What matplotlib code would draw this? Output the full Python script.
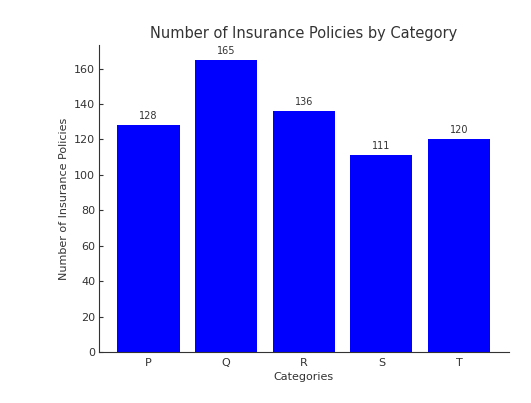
import matplotlib
matplotlib.use("Agg")
import matplotlib.pyplot as plt

categories = ["P", "Q", "R", "S", "T"]
values = [128, 165, 136, 111, 120]

fig = plt.figure(figsize=(5.31, 4.03), dpi=100)
ax = fig.add_axes([0.186, 0.1266, 0.772, 0.7614])
bars = ax.bar(categories, values, color="blue", width=0.8)
for b, v in zip(bars, values):
    ax.annotate(str(v), (b.get_x() + b.get_width() / 2, v), xytext=(0, 3),
                textcoords="offset points", ha="center", va="bottom",
                fontsize=7, color="#333333")
ax.set_title("Number of Insurance Policies by Category", fontsize=10.5,
             color="#333333", pad=5)
ax.set_xlabel("Categories", fontsize=8, color="#333333", labelpad=3)
ax.set_ylabel("Number of Insurance Policies", fontsize=8, color="#333333")
ax.spines["top"].set_visible(False)
ax.spines["right"].set_visible(False)
for s in ("left", "bottom"):
    ax.spines[s].set_color("#333333")
ax.tick_params(axis="y", direction="in", labelsize=8, colors="#333333", length=3, pad=2.5)
ax.tick_params(axis="x", direction="in", labelsize=8, colors="#333333", length=0, pad=4)
fig.savefig("out.png", dpi=100)
